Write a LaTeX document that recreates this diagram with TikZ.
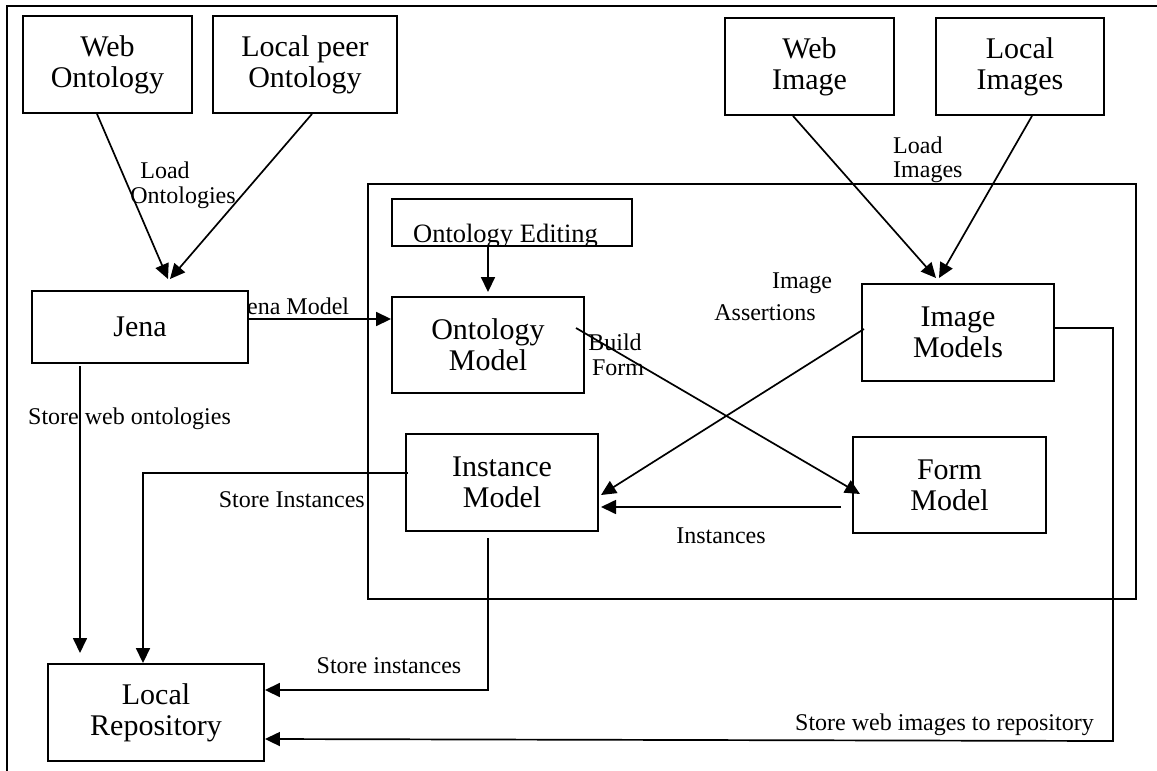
\documentclass[tikz,border=0pt]{standalone}
\usepackage{fontspec}
\setmainfont{Liberation Serif}
\usetikzlibrary{arrows.meta,calc}
\tikzset{
  box/.style={draw, line width=1.9pt, fill=white, align=center, inner sep=0pt,
    font=\fontsize{30}{31}\selectfont},
  lbl/.style={inner sep=0pt, font=\fontsize{24}{27}\selectfont},
  conn/.style={line width=1.7pt},
  arr/.style={conn, -{Triangle[length=15pt,width=14pt]}},
}
\begin{document}
\begin{tikzpicture}[x=1pt,y=-1pt]
\useasboundingbox (0,0) rectangle (1157,771);
\fill[white] (0,0) rectangle (1157,771);
% outer frame (top and left only)
\draw[line width=1.9pt] (1157,6) -- (7,6) -- (7,771);

% container
\node[draw, line width=1.9pt, inner sep=0pt, minimum width=768pt, minimum height=415pt] (frame) at (752,391.5) {};

% label partly hidden by Jena box
\node[lbl, anchor=base] (lblJM) at (293.5,314) {Jena Model};

% boxes
\node[box, minimum width=169pt, minimum height=97pt] (webonto) at (107.5,64.5) {Web\\Ontology};
\node[box, minimum width=184pt, minimum height=97pt] (peeronto) at (305,64.5) {Local peer\\Ontology};
\node[box, minimum width=169pt, minimum height=97pt] (webimg) at (809.5,66.5) {Web\\Image};
\node[box, minimum width=168pt, minimum height=97pt] (locimg) at (1020,66.5) {Local\\Images};
\node[box, minimum width=216pt, minimum height=72pt] (jena) at (140,327) {Jena};
\node[box, minimum width=240pt, minimum height=47pt,
  path picture={\node[anchor=base, inner sep=0pt, font=\fontsize{26.5}{28}\selectfont]
    at ([xshift=-6.5pt,yshift=4pt]path picture bounding box.south) {Ontology Editing};}]
  (ontedit) at (512,222.5) {};
\node[box, minimum width=192pt, minimum height=96pt] (ontmodel) at (488,345) {Ontology\\Model};
\node[box, minimum width=192pt, minimum height=97pt] (imgmodel) at (958,332.5) {Image\\Models};
\node[box, minimum width=192pt, minimum height=97pt] (instmodel) at (502,482.5) {Instance\\Model};
\node[box, minimum width=193pt, minimum height=96pt] (formmodel) at (949.5,485) {Form\\Model};
\node[box, minimum width=216pt, minimum height=97pt] (localrepo) at (156,712.5) {Local\\Repository};

% free-end coordinates
\coordinate (jenatipA) at (168,279);
\coordinate (jenatipB) at (170,279);
\coordinate (imgtipA) at (936,278);
\coordinate (imgtipB) at (939,278);
\coordinate (bfstart) at (576,328);
\coordinate (bftip) at (860,494);
\coordinate (iastart) at (864,329);
\coordinate (iatip) at (601,495);
\coordinate (insstart) at (841,507);
\coordinate (instip) at (601,507);
\coordinate (jenadown) at (80,366);
\coordinate (jenadowntip) at (80,653);
\coordinate (siA) at (408,473);
\coordinate (siB) at (143,473);
\coordinate (stA) at (488,538);
\coordinate (stB) at (488,690);
\coordinate (wiA) at (1113,328);
\coordinate (wiB) at (1113,741);

% connectors
\draw[arr] ([xshift=-10.5pt]webonto.south) -- (jenatipA);
\draw[arr] ([xshift=7pt]peeronto.south) -- (jenatipB);
\draw[arr] ([xshift=-16.5pt]webimg.south) -- (imgtipA);
\draw[arr] ([xshift=12pt]locimg.south) -- (imgtipB);
\draw[arr] ([yshift=8pt]jena.east) coordinate (jm) -- (jm -| ontmodel.west);
\draw[arr, shorten >=4pt] (ontedit.south -| ontmodel.north) -- (ontmodel.north);
\draw[arr] (bfstart) -- (bftip);
\draw[arr] (iastart) -- (iatip);
\draw[arr] (insstart) -- (instip);
\draw[arr] (jenadown) -- (jenadowntip);
\draw[arr] (siA) -- (siB) -- (siB |- localrepo.north);
\draw[arr] (stA) -- (stB) -- (stB -| localrepo.east);
\draw[arr] (imgmodel.east |- wiA) -- (wiA) -- (wiB) -- ([yshift=-26.5pt]localrepo.east);

% labels
\node[lbl] (lblLoad1) at (165,170) {Load};
\node[lbl] (lblLoad2) at (183,198) {Ontologies};
\node[lbl, anchor=west] (lblLI1) at (893,145) {Load};
\node[lbl, anchor=west] (lblLI2) at (893,172) {Images};
\node[lbl, anchor=west] (lblSWO) at (28,419) {Store web ontologies};
\node[lbl, anchor=base east] (lblSI) at (365,507) {Store Instances};
\node[lbl] (lblB1) at (615,342) {Build};
\node[lbl] (lblB2) at (618,368) {Form};
\node[lbl] (lblIA1) at (802,283) {Image};
\node[lbl] (lblIA2) at (765,313) {Assertions};
\node[lbl] (lblInst) at (721,536) {Instances};
\node[lbl] (lblSi2) at (389,666) {Store instances};
\node[lbl, anchor=base east] (lblSWI) at (1094,730) {Store web images to repository};
\end{tikzpicture}
\end{document}
